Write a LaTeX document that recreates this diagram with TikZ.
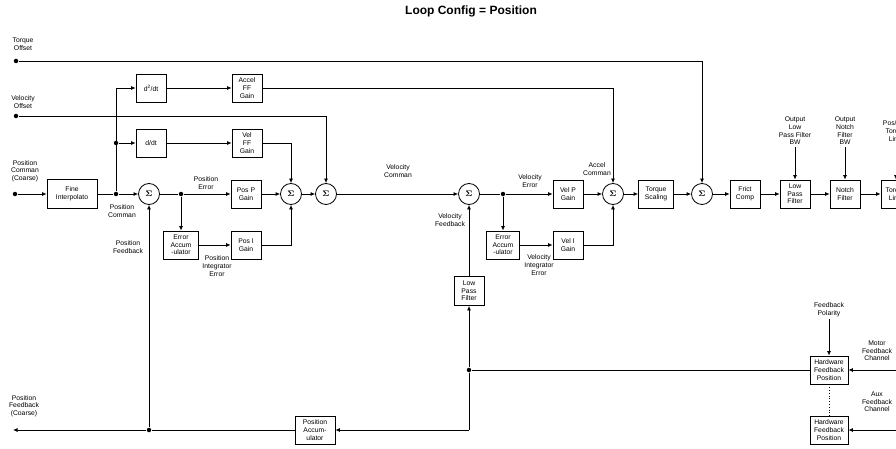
\documentclass[tikz,border=0pt]{standalone}
\usepackage{fontspec}
\setmainfont{Liberation Sans}
\usetikzlibrary{arrows.meta}
\newcommand{\txtsize}{\fontsize{6.8}{7.6}\selectfont}

\begin{document}
\begin{tikzpicture}[x=1pt,y=-1pt,line width=0.8pt,
    blk/.style={draw,fill=white,minimum width=30pt,minimum height=28pt,inner sep=1pt,align=center,font=\txtsize},
    sum/.style={draw,circle,minimum size=21pt,inner sep=0pt,font=\fontsize{8}{9}\selectfont\boldmath},
    lbl/.style={align=center,font=\txtsize,inner sep=2pt},
    jdot/.style={circle,fill,inner sep=0pt,minimum size=4.5pt},
    flow/.style={-{Latex[length=4.5pt,width=4pt]}}]
    % Page frame
    \clip (0,0) rectangle (896,449);
    \fill[white] (0,0) rectangle (896,449);

    % Title
    \node[font=\bfseries\fontsize{12}{14}\selectfont] (title) at (471,11) {Loop Config = Position};

    % Inputs
    \node[lbl] (tqoffl) at (23,44) {Torque\\Offset};
    \node[jdot] (tqoff) at (16,61) {};
    \node[lbl] (veloffl) at (23,102) {Velocity\\Offset};
    \node[jdot] (veloff) at (16,116) {};
    \node[lbl] (poscmdl) at (25,171) {Position\\Comman\\(Coarse)};
    \node[jdot] (poscmd) at (15,194) {};

    % Position loop
    \node[blk,minimum width=50pt,minimum height=29pt] (interp) at (72,194) {Fine\\Interpolato};
    \node[jdot] (j1) at (116,194) {};
    \node[jdot] (j2) at (116,143) {};
    \coordinate (j3) at (116,88);
    \node[blk] (ddt2) at (151,88) {d\textsuperscript{2}/dt};
    \node[blk] (ddt) at (151,143) {d/dt};
    \node[blk] (accff) at (247,88) {Accel\\FF\\Gain};
    \node[blk] (velff) at (247,143) {Vel\\FF\\Gain};
    \node[sum] (s1) at (149,194) {$\Sigma$};
    \node[jdot] (j4) at (181,194) {};
    \node[blk] (posp) at (246,194) {Pos P\\Gain};
    \node[blk,minimum width=35pt] (perr) at (181,245) {Error\\Accum\\-ulator};
    \node[blk] (posi) at (246,245) {Pos I\\Gain};
    \node[sum] (s2) at (291,194) {$\Sigma$};
    \node[sum] (s3) at (326,194) {$\Sigma$};

    \node[lbl] (poscmd2l) at (122,211) {Position\\Comman};
    \node[lbl] (posfbl) at (128,247) {Position\\Feedback};
    \node[lbl] (poserrl) at (206,183) {Position\\Error};
    \node[lbl] (posintl) at (217,266) {Position\\Integrator\\Error};

    % Velocity loop
    \node[sum] (s5) at (469,194) {$\Sigma$};
    \node[jdot] (j5) at (503,194) {};
    \node[blk] (velp) at (568,194) {Vel P\\Gain};
    \node[blk,minimum width=33pt] (verr) at (503,245) {Error\\Accum\\-ulator};
    \node[blk] (veli) at (568,245) {Vel I\\Gain};
    \node[sum] (s6) at (613,194) {$\Sigma$};

    \node[lbl] (velcmdl) at (398,171) {Velocity\\Comman};
    \node[lbl] (velfbl) at (450,220) {Velocity\\Feedback};
    \node[lbl] (velerrl) at (530,181) {Velocity\\Error};
    \node[lbl] (acccmdl) at (597,169) {Accel\\Comman};
    \node[lbl] (velintl) at (539,265) {Velocity\\Integrator\\Error};

    % Torque path
    \node[blk,minimum width=35pt] (tqscale) at (656,194) {Torque\\Scaling};
    \node[sum] (s7) at (702,194) {$\Sigma$};
    \node[blk] (frict) at (745,194) {Frict\\Comp};
    \node[blk] (olpf) at (795,194) {Low\\Pass\\Filter};
    \node[blk] (notch) at (845,194) {Notch\\Filter};
    \node[blk] (tqlim) at (896,194) {Torque\\Limit};
    \node[lbl] (olpfbw) at (795,131) {Output\\Low\\Pass Filter\\BW};
    \node[lbl] (notchbw) at (845,131) {Output\\Notch\\Filter\\BW};
    \node[lbl] (tqliml) at (896,131) {Pos/Neg\\Torque\\Limit};

    % Feedback path
    \node[blk,minimum height=29pt] (vlpf) at (469,291) {Low\\Pass\\Filter};
    \node[jdot] (j6) at (469,370) {};
    \coordinate (j8) at (469,430);
    \node[jdot] (j7) at (149,430) {};
    \coordinate (pfbout) at (13,430);
    \node[blk,minimum width=40pt] (posacc) at (315,430) {Position\\Accum-\\ulator};
    \node[blk,minimum width=38pt] (hwfb1) at (829,370) {Hardware\\Feedback\\Position};
    \node[blk,minimum width=38pt] (hwfb2) at (829,430) {Hardware\\Feedback\\Position};
    \coordinate (motin) at (897,370);
    \coordinate (auxin) at (897,430);
    \node[lbl] (fbpol) at (829,310) {Feedback\\Polarity};
    \node[lbl] (motl) at (877,351) {Motor\\Feedback\\Channel};
    \node[lbl] (auxl) at (877,402) {Aux\\Feedback\\Channel};
    \node[lbl] (pfboutl) at (24,406) {Position\\Feedback\\(Coarse)};

    % Connectors, position loop
    \draw[flow] (poscmd) -- (interp);
    \draw (interp) -- (j1);
    \draw[flow] (j1) -- (s1);
    \draw (j1) -- (j3);
    \draw[flow] (j3) -- (ddt2);
    \draw[flow] (j2) -- (ddt);
    \draw[flow] (ddt2) -- (accff);
    \draw[flow] (ddt) -- (velff);
    \draw (s1) -- (j4);
    \draw[flow] (j4) -- (posp);
    \draw[flow] (j4) -- (perr);
    \draw[flow] (perr) -- (posi);
    \draw[flow] (posp) -- (s2);
    \draw[flow] (posi) -| (s2);
    \draw[flow] (velff) -| (s2);
    \draw[flow] (s2) -- (s3);
    \draw[flow] (veloff) -| (s3);
    \draw[flow] (s3) -- (s5);

    % Connectors, velocity loop
    \draw (s5) -- (j5);
    \draw[flow] (j5) -- (velp);
    \draw[flow] (j5) -- (verr);
    \draw[flow] (verr) -- (veli);
    \draw[flow] (velp) -- (s6);
    \draw[flow] (veli) -| (s6);
    \draw[flow] (accff) -| (s6);
    \draw[flow] (s6) -- (tqscale);
    \draw[flow] (tqscale) -- (s7);
    \draw[flow] (tqoff) -| (s7);
    \draw[flow] (s7) -- (frict);
    \draw[flow] (frict) -- (olpf);
    \draw[flow] (olpf) -- (notch);
    \draw[flow] (notch) -- (tqlim);
    \draw[flow] (olpfbw) -- (olpf);
    \draw[flow] (notchbw) -- (notch);
    \draw[flow] (tqliml) -- (tqlim);

    % Connectors, feedback
    \draw[flow] (motin) -- (hwfb1);
    \draw[flow] (auxin) -- (hwfb2);
    \draw[dotted] (hwfb1) -- (hwfb2);
    \draw[flow] (fbpol) -- (hwfb1);
    \draw (hwfb1) -- (j6);
    \draw[flow] (j6) -- (vlpf);
    \draw[flow] (vlpf) -- (s5);
    \draw (j6) -- (j8);
    \draw[flow] (j8) -- (posacc);
    \draw (posacc) -- (j7);
    \draw[flow] (j7) -- (pfbout);
    \draw[flow] (j7) -- (s1);
\end{tikzpicture}
\end{document}
